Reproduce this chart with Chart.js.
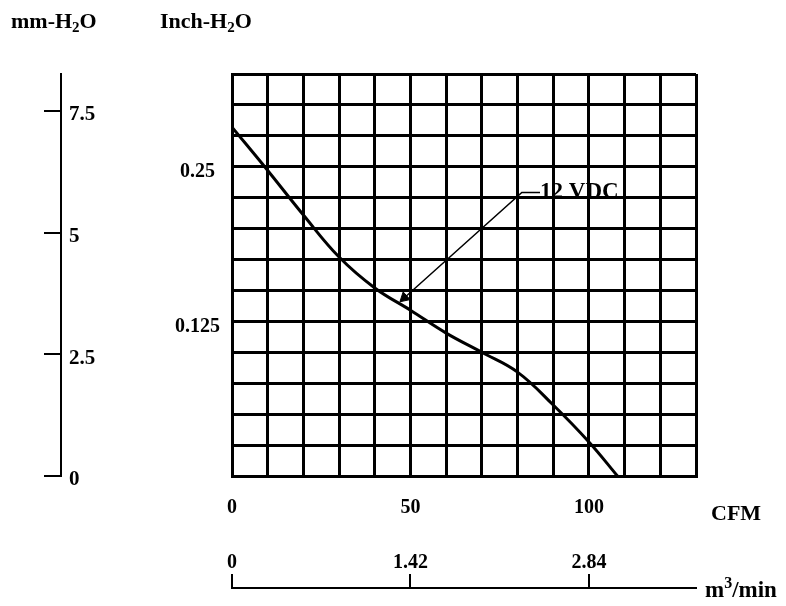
<!DOCTYPE html>
<html lang="en">
<head>
    <meta charset="UTF-8">
    <title>Fan P-Q curve</title>
    <script src="https://cdn.jsdelivr.net/npm/chart.js"></script>
    <style>
        body {
            margin: 0;
            background-color: white;
        }
    </style>
</head>
<body>
    <canvas id="pq-chart" width="786" height="606"></canvas>
    <script>
        // airflow (CFM) and static pressure (inch-H2O)
        const cfm = [0, 10, 20, 30, 40, 50, 60, 70, 80, 90, 100, 108];
        const inchH2O = [0.282, 0.247, 0.211, 0.177, 0.152, 0.134, 0.1155, 0.100, 0.084, 0.0574, 0.0275, 0];

        const seriesName = '12 VDC';
        // leader line from the curve to the series label
        const leaderCfm = [48.3, 81.2, 86.3];
        const leaderInch = [0.1441, 0.2292, 0.2292];

        const cfmLabels = [0, 50, 100];
        const inchLabels = [0.125, 0.25];
        const mmTicks = [0, 2.5, 5, 7.5];
        const m3Ticks = [0, 1.42, 2.84];
        const m3Labels = ['0', '1.42', '2.84'];

        const FONT = 'Liberation Serif';
        Chart.defaults.font.family = FONT;
        Chart.defaults.color = '#000';

        function same(a, b) {
            return Math.abs(a - b) < 1e-6;
        }

        // text with sub/superscript parts
        function drawRich(ctx, parts, x, y, size) {
            parts.forEach(p => {
                const small = p[1] !== 'n';
                ctx.font = 'bold ' + (small ? Math.round(size * 0.68) : size) + 'px "' + FONT + '"';
                let dy = 0;
                if (p[1] === 'sub') dy = 4;
                if (p[1] === 'sup') dy = -9;
                ctx.fillText(p[0], x, y + dy);
                x += ctx.measureText(p[0]).width;
            });
        }

        const unitLabels = {
            id: 'unitLabels',
            afterDraw(chart) {
                const ctx = chart.ctx;
                const xs = chart.scales.x;
                const x2 = chart.scales.x2;
                const ys = chart.scales.y;
                ctx.save();
                ctx.fillStyle = '#000';
                ctx.textAlign = 'left';
                ctx.textBaseline = 'alphabetic';
                drawRich(ctx, [['mm-H', 'n'], ['2', 'sub'], ['O', 'n']], 11, 28, 22);
                drawRich(ctx, [['Inch-H', 'n'], ['2', 'sub'], ['O', 'n']], 160, 28, 22);
                drawRich(ctx, [['CFM', 'n']], xs.right + 15, 520, 22);
                drawRich(ctx, [['m', 'n'], ['3', 'sup'], ['/min', 'n']], x2.right + 9, 597, 23);

                const n = leaderCfm.length - 1;
                const lx = xs.getPixelForValue(leaderCfm[n]);
                const ly = ys.getPixelForValue(leaderInch[n]);
                drawRich(ctx, [[seriesName, 'n']], lx, ly + 6, 23);
                ctx.restore();
            }
        };

        const ctx = document.getElementById('pq-chart').getContext('2d');
        const chart = new Chart(ctx, {
            type: 'line',
            data: {
                datasets: [
                    {
                        label: seriesName,
                        data: cfm.map((v, i) => ({x: v, y: inchH2O[i]})),
                        borderColor: '#000',
                        borderWidth: 3,
                        pointRadius: 0,
                        fill: false,
                        tension: 0.4,
                        xAxisID: 'x',
                        yAxisID: 'y'
                    },
                    {
                        label: 'leader',
                        data: leaderCfm.map((v, i) => ({x: v, y: leaderInch[i]})),
                        borderColor: '#000',
                        backgroundColor: '#000',
                        borderWidth: 1.5,
                        tension: 0,
                        pointStyle: 'triangle',
                        pointRadius: [6, 0, 0],
                        pointRotation: 228,
                        pointBorderWidth: 1,
                        fill: false,
                        xAxisID: 'x',
                        yAxisID: 'y'
                    }
                ]
            },
            options: {
                responsive: false,
                devicePixelRatio: 1,
                animation: false,
                layout: {
                    padding: {top: 74, right: 90, bottom: 0, left: 44}
                },
                plugins: {
                    legend: {display: false},
                    tooltip: {enabled: false}
                },
                scales: {
                    x: {
                        type: 'linear',
                        position: 'bottom',
                        weight: 0,
                        min: 0,
                        max: 130,
                        grid: {
                            color: '#000',
                            lineWidth: 3,
                            drawTicks: false
                        },
                        border: {display: true, color: '#000', width: 3},
                        ticks: {
                            stepSize: 10,
                            autoSkip: false,
                            maxRotation: 0,
                            padding: 20,
                            font: {size: 20, weight: 'bold'},
                            callback: v => cfmLabels.some(c => same(c, v)) ? String(v) : ''
                        },
                        afterFit: s => { s.height = 112; }
                    },
                    x2: {
                        type: 'linear',
                        position: 'bottom',
                        weight: 1,
                        min: 0,
                        max: 130 / 50 * 1.42,
                        grid: {
                            color: '#000',
                            lineWidth: 2,
                            drawOnChartArea: false,
                            drawTicks: true,
                            tickLength: -14
                        },
                        border: {display: true, color: '#000', width: 2},
                        afterBuildTicks: s => { s.ticks = m3Ticks.map(v => ({value: v})); },
                        ticks: {
                            autoSkip: false,
                            maxRotation: 0,
                            mirror: true,
                            padding: 13,
                            font: {size: 20, weight: 'bold'},
                            callback: (v, i) => m3Labels[i]
                        },
                        afterFit: s => { s.height = 18; }
                    },
                    y: {
                        type: 'linear',
                        position: 'left',
                        weight: 0,
                        min: 0,
                        max: 0.325,
                        grid: {
                            color: '#000',
                            lineWidth: 3,
                            drawTicks: false
                        },
                        border: {display: true, color: '#000', width: 3},
                        ticks: {
                            stepSize: 0.025,
                            autoSkip: false,
                            crossAlign: 'center',
                            padding: 12,
                            labelOffset: 5,
                            font: {size: 20, weight: 'bold'},
                            callback: v => {
                                const hit = inchLabels.find(c => same(c, v));
                                return hit === undefined ? '' : String(hit);
                            }
                        },
                        afterFit: s => { s.width = 171; }
                    },
                    mm: {
                        type: 'linear',
                        position: 'left',
                        weight: 1,
                        min: 0,
                        max: 0.325 * 25.4,
                        grid: {
                            color: '#000',
                            lineWidth: 2,
                            drawOnChartArea: false,
                            drawTicks: true,
                            tickLength: 17
                        },
                        border: {display: true, color: '#000', width: 2},
                        afterBuildTicks: s => { s.ticks = mmTicks.map(v => ({value: v})); },
                        ticks: {
                            autoSkip: false,
                            mirror: true,
                            padding: 8,
                            labelOffset: 4,
                            font: {size: 21, weight: 'bold'}
                        },
                        afterFit: s => { s.width = 17; }
                    }
                }
            },
            plugins: [unitLabels]
        });
    </script>
</body>
</html>
